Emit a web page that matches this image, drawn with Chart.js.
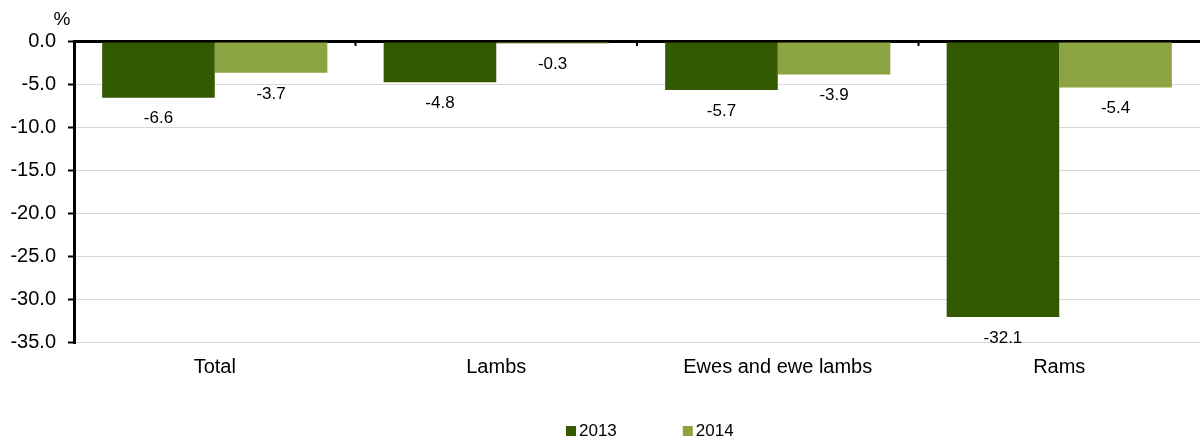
<!DOCTYPE html>
<html>
<head>
<meta charset="utf-8">
<script src="https://cdn.jsdelivr.net/npm/chart.js@4/dist/chart.umd.min.js"></script>
<style>
  html, body { margin: 0; padding: 0; background: #fff; }
  #wrap { width: 1200px; height: 442px; position: relative; }
</style>
</head>
<body>
<div id="wrap"><canvas id="myChart"></canvas></div>
<script>
// data
var categories = ['Total', 'Lambs', 'Ewes and ewe lambs', 'Rams'];
var seriesNames = ['2013', '2014'];
var values2013 = [-6.6, -4.8, -5.7, -32.1];
var values2014 = [-3.7, -0.3, -3.9, -5.4];
var yTicks = [0, -5, -10, -15, -20, -25, -30, -35];

var colors = ['#335a00', '#8ba341'];
var FONT = "'Liberation Sans', Arial, sans-serif";

// value labels under the end of each bar
var barLabels = {
  id: 'barLabels',
  afterDatasetsDraw: function (chart) {
    var ctx = chart.ctx;
    ctx.save();
    ctx.font = '17px ' + FONT;
    ctx.fillStyle = '#000';
    ctx.textAlign = 'center';
    ctx.textBaseline = 'middle';
    chart.data.datasets.forEach(function (ds, i) {
      chart.getDatasetMeta(i).data.forEach(function (bar, j) {
        ctx.fillText(ds.data[j].toFixed(1), bar.x, bar.y + 21);
      });
    });
    ctx.restore();
  }
};

// "%" unit, small ticks on the zero line, legend at the bottom
var extras = {
  id: 'extras',
  afterDraw: function (chart) {
    var ctx = chart.ctx;
    var xs = chart.scales.x;
    var y0 = chart.scales.y.getPixelForValue(0);
    ctx.save();

    ctx.font = '19px ' + FONT;
    ctx.fillStyle = '#000';
    ctx.textAlign = 'center';
    ctx.textBaseline = 'middle';
    ctx.fillText('%', 62, 20);

    ctx.strokeStyle = '#000';
    ctx.lineWidth = 2;
    for (var i = 0; i < categories.length - 1; i++) {
      var bx = (xs.getPixelForTick(i) + xs.getPixelForTick(i + 1)) / 2;
      ctx.beginPath();
      ctx.moveTo(bx, y0);
      ctx.lineTo(bx, y0 + 5);
      ctx.stroke();
    }

    // legend
    ctx.font = '17px ' + FONT;
    ctx.textAlign = 'left';
    var lx = 566, ly = 431;
    chart.data.datasets.forEach(function (ds) {
      ctx.fillStyle = ds.backgroundColor;
      ctx.fillRect(lx, ly - 5, 10, 10);
      ctx.fillStyle = '#000';
      ctx.fillText(ds.label, lx + 13, ly);
      lx += 13 + ctx.measureText(ds.label).width + 66;
    });
    ctx.restore();
  }
};

var ctx = document.getElementById('myChart').getContext('2d');
var chart = new Chart(ctx, {
  type: 'bar',
  data: {
    labels: categories,
    datasets: [
      { label: seriesNames[0], data: values2013, backgroundColor: colors[0] },
      { label: seriesNames[1], data: values2014, backgroundColor: colors[1] }
    ]
  },
  options: {
    responsive: true,
    maintainAspectRatio: false,
    animation: false,
    layout: { padding: { top: 41, right: -5, bottom: 50, left: 0 } },
    categoryPercentage: 0.8,
    barPercentage: 1.0,
    plugins: {
      legend: { display: false },
      tooltip: { enabled: false }
    },
    scales: {
      x: {
        grid: { display: false },
        border: { display: false },
        ticks: { color: '#000', font: { family: FONT, size: 20 }, padding: 5, maxRotation: 0 },
        afterFit: function (s) { s.height = 50; }
      },
      y: {
        min: -35,
        max: 0,
        afterBuildTicks: function (s) { s.ticks = yTicks.map(function (v) { return { value: v }; }); },
        ticks: {
          color: '#000',
          font: { family: FONT, size: 20 },
          padding: 12,
          callback: function (v) { return Number(v).toFixed(1); }
        },
        grid: {
          color: function (c) { return c.tick && c.tick.value === 0 ? '#000' : '#d9d9d9'; },
          lineWidth: function (c) { return c.tick && c.tick.value === 0 ? 3 : 1; },
          tickColor: '#000',
          tickLength: 6,
          tickWidth: 2
        },
        border: { display: true, color: '#000', width: 3 },
        afterFit: function (s) { s.width = 74; }
      }
    }
  },
  plugins: [barLabels, extras]
});
</script>
</body>
</html>
